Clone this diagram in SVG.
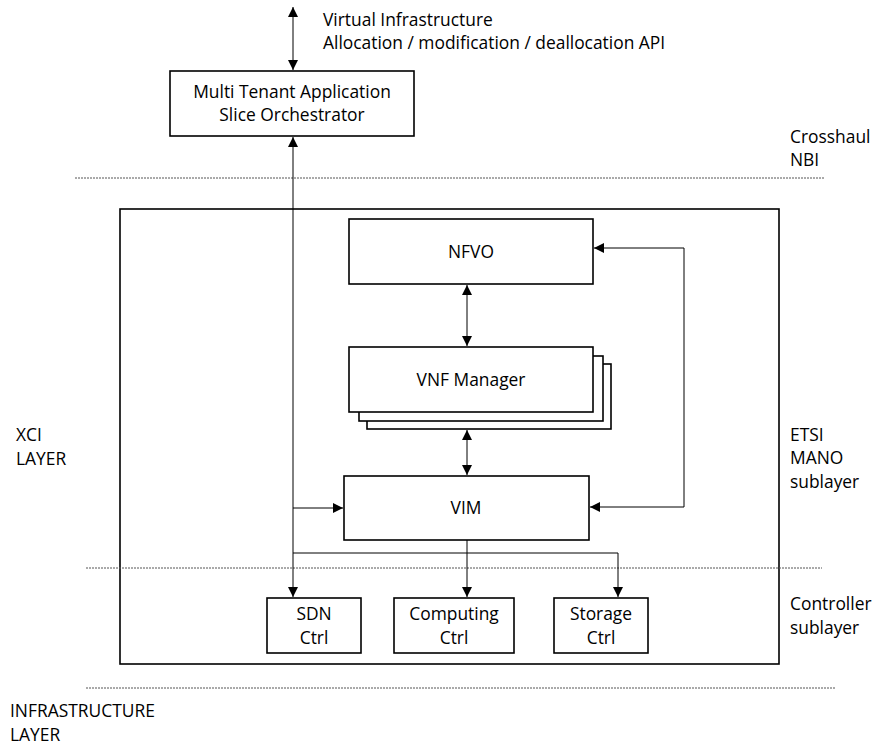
<svg xmlns="http://www.w3.org/2000/svg" width="882" height="746" viewBox="0 0 882 746">
<defs>
<style>
text{font-family:"Open Sans","Liberation Sans",Arial,sans-serif;font-size:17.4px;fill:#000}
.c{text-anchor:middle}
.box{fill:#fff;stroke:#000;stroke-width:1.6}
.frame{fill:none;stroke:#000;stroke-width:1.6}
.ln{fill:none;stroke:#000;stroke-width:1}
.dash{fill:none;stroke:#555;stroke-width:1;stroke-dasharray:2 1}
</style>
<marker id="ah" viewBox="0 0 10 10" refX="10" refY="5" markerWidth="10" markerHeight="10" markerUnits="userSpaceOnUse" orient="auto-start-reverse">
<path d="M0,0 L10,5 L0,10 Z" fill="#000"/>
</marker>
</defs>
<rect width="882" height="746" fill="#fff"/>
<g id="xci-box"><rect class="frame" x="120" y="209" width="659" height="455"/></g>
<g id="layers">
<line class="dash" x1="75" y1="178" x2="825" y2="178"/>
<line class="dash" x1="86" y1="568" x2="822" y2="568"/>
<line class="dash" x1="86" y1="688" x2="835" y2="688"/>
<text x="790" y="143">Crosshaul</text>
<text x="790" y="166">NBI</text>
<text x="16" y="441">XCI</text>
<text x="16" y="465">LAYER</text>
<text x="790" y="441">ETSI</text>
<text x="790" y="464">MANO</text>
<text x="790" y="488">sublayer</text>
<text x="790" y="610">Controller</text>
<text x="790" y="634">sublayer</text>
<text x="10" y="717">INFRASTRUCTURE</text>
<text x="10" y="741">LAYER</text>
<text x="323" y="26">Virtual Infrastructure</text>
<text x="323" y="49">Allocation / modification / deallocation API</text>
</g>
<g id="mtaso"><rect class="box" x="170" y="71" width="244" height="65"/><text class="c" x="292" y="98">Multi Tenant Application</text><text class="c" x="292" y="121">Slice Orchestrator</text></g>
<g id="nfvo"><rect class="box" x="349" y="219" width="244" height="65"/><text class="c" x="471" y="258">NFVO</text></g>
<g id="vnfm">
<rect class="box" x="367" y="364" width="244" height="65"/>
<rect class="box" x="359" y="356" width="244" height="65"/>
<rect class="box" x="349" y="347" width="244" height="65"/><text class="c" x="471" y="386">VNF Manager</text></g>
<g id="vim"><rect class="box" x="344" y="476" width="245" height="64"/><text class="c" x="466" y="514">VIM</text></g>
<g id="sdn"><rect class="box" x="267" y="598" width="94" height="55"/><text class="c" x="314" y="620">SDN</text><text class="c" x="314" y="644">Ctrl</text></g>
<g id="comp"><rect class="box" x="394" y="598" width="120" height="55"/><text class="c" x="454" y="620">Computing</text><text class="c" x="454" y="644">Ctrl</text></g>
<g id="stor"><rect class="box" x="554" y="598" width="94" height="55"/><text class="c" x="601" y="620">Storage</text><text class="c" x="601" y="644">Ctrl</text></g>
<g id="connectors">
<line class="ln" x1="293" y1="7" x2="293" y2="70" marker-start="url(#ah)" marker-end="url(#ah)"/>
<line class="ln" x1="293" y1="137" x2="293" y2="597" marker-start="url(#ah)" marker-end="url(#ah)"/>
<line class="ln" x1="293" y1="508" x2="343" y2="508" marker-end="url(#ah)"/>
<line class="ln" x1="467" y1="285" x2="467" y2="346" marker-start="url(#ah)" marker-end="url(#ah)"/>
<line class="ln" x1="467" y1="430" x2="467" y2="475" marker-start="url(#ah)" marker-end="url(#ah)"/>
<polyline class="ln" points="684,507 684,248 594,248" marker-end="url(#ah)"/>
<line class="ln" x1="684" y1="507" x2="590" y2="507" marker-end="url(#ah)"/>
<line class="ln" x1="467" y1="540" x2="467" y2="597" marker-end="url(#ah)"/>
<polyline class="ln" points="293,553 618,553 618,597" marker-end="url(#ah)"/>
</g>
</svg>
